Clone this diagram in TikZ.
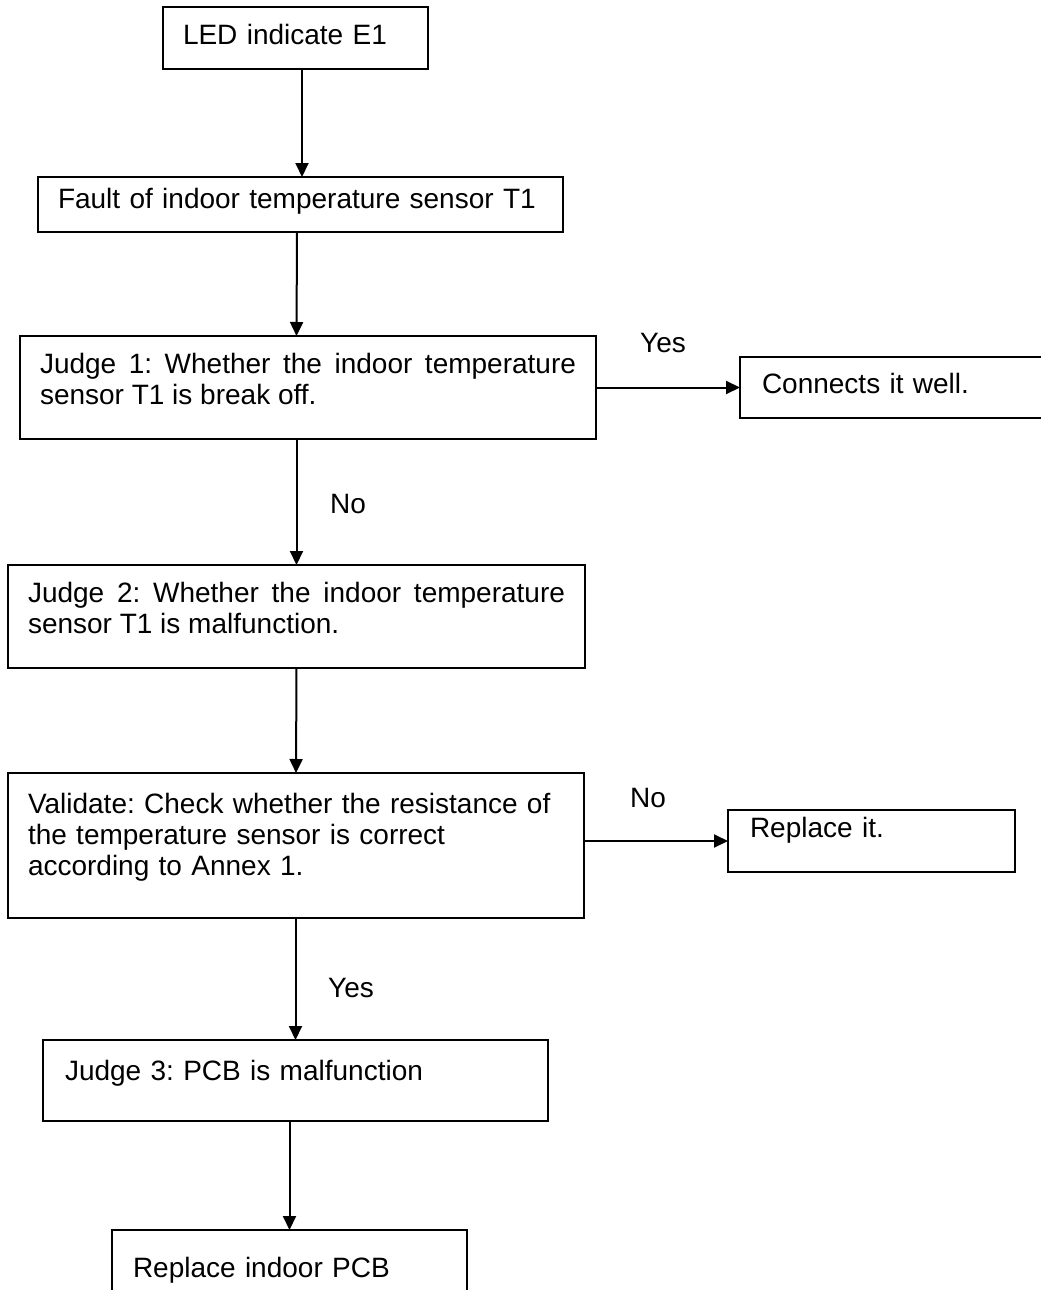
\documentclass[tikz,border=0pt]{standalone}
\usepackage{fontspec}
\setmainfont{Liberation Sans}
\usetikzlibrary{arrows.meta}
\newcommand{\flowfont}{\fontsize{28}{31}\selectfont\frenchspacing}
\begin{document}
\begin{tikzpicture}[x=1pt,y=-1pt,
    stepbox/.style={draw,line width=2pt,anchor=north west,outer sep=0pt,
      inner xsep=20pt,inner ysep=0pt,align=left,font=\flowfont},
    flow/.style={line width=2pt,-{Triangle[length=14pt,width=13pt]}},
    answer/.style={anchor=base west,inner sep=0pt,font=\flowfont}]
  \useasboundingbox (0,0) rectangle (1041,1290);

  % Main column
  \node[stepbox,text width=225pt,text height=38pt,text depth=24pt] (led) at (163,7) {LED indicate E1};
  \node[stepbox,text width=485pt,text height=31pt,text depth=24pt] (fault) at (38,177) {Fault of indoor temperature sensor T1};
  \node[stepbox,align=justify,text width=536pt,text height=37pt,text depth=66pt] (judgeA) at (20,336)
    {Judge 1: Whether the indoor temperature sensor T1 is break off.};
  \node[stepbox,align=justify,text width=537pt,text height=37pt,text depth=66pt] (judgeB) at (8,565)
    {Judge 2: Whether the indoor temperature sensor T1 is malfunction.};
  \node[stepbox,text width=536pt,text height=40pt,text depth=105pt] (check) at (8,773)
    {Validate: Check whether the resistance of\\the temperature sensor is correct\\according to Annex 1.};
  \node[stepbox,inner xsep=22pt,text width=461pt,text height=40pt,text depth=41pt] (judgeC) at (43,1040) {Judge 3: PCB is malfunction};
  \node[stepbox,inner xsep=21pt,text width=313pt,text height=47pt,text depth=80pt] (pcb) at (112,1230) {Replace indoor PCB};

  % Side boxes
  \node[stepbox,inner xsep=22pt,text width=300pt,text height=36pt,text depth=25pt] (wire) at (740,357) {Connects it well.};
  \node[stepbox,inner xsep=22pt,text width=243pt,text height=27pt,text depth=35pt] (sensor) at (728,810) {Replace it.};

  % Answers
  \node[answer] (yesA) at (640,352) {Yes};
  \node[answer] (noA) at (330,513) {No};
  \node[answer] (noB) at (630,807) {No};
  \node[answer] (yesB) at (328,997) {Yes};

  % Arrows
  \draw[flow] ([xshift=6.5pt]led.south) -- ([xshift=1.5pt]fault.north);
  \draw[flow] ([xshift=-3.5pt]fault.south) -- ([xshift=-11.5pt]judgeA.north);
  \draw[flow] (judgeA.east) -- (wire.west);
  \draw[flow] (judgeB.north |- judgeA.south) -- (judgeB.north);
  \draw[flow] (judgeB.south) -- (check.north);
  \draw[flow] (sensor.west -| check.east) -- (sensor.west);
  \draw[flow] (judgeC.north |- check.south) -- (judgeC.north);
  \draw[flow] (pcb.north |- judgeC.south) -- (pcb.north);
\end{tikzpicture}
\end{document}
